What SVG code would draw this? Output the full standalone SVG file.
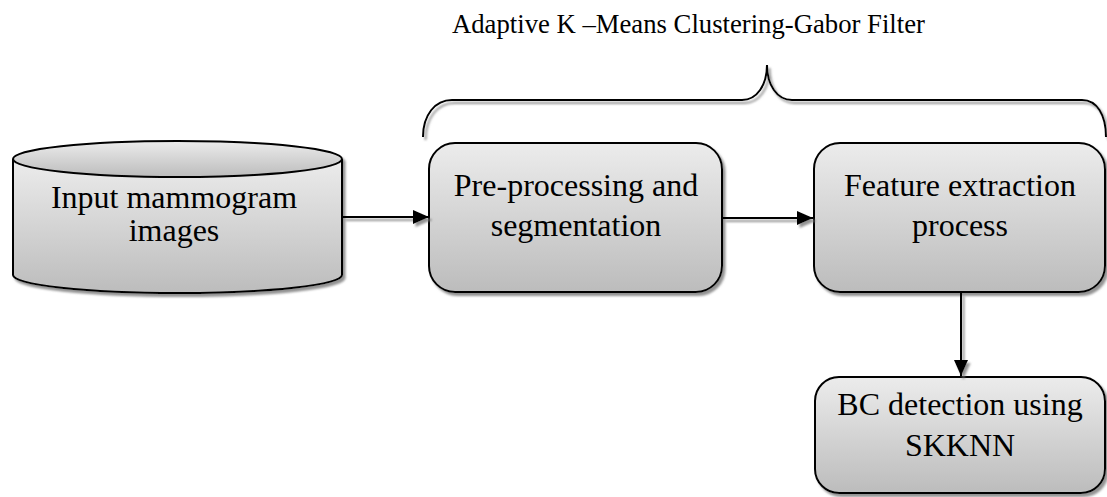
<svg xmlns="http://www.w3.org/2000/svg" width="1107" height="497" viewBox="0 0 1107 497">
<style>
.shape{stroke:#000;stroke-width:2;fill:url(#g)}
.lbl{font-family:"Liberation Serif","Times New Roman",serif;font-size:32px;fill:#000;text-anchor:middle}
.title{font-family:"Liberation Serif","Times New Roman",serif;font-size:26.7px;fill:#000}
.conn{stroke:#000;stroke-width:2;fill:none}
</style>
<defs>
<linearGradient id="g" x1="0" y1="0" x2="0" y2="1">
<stop offset="0" stop-color="#ececec"/>
<stop offset="1" stop-color="#bcbcbc"/>
</linearGradient>
<filter id="sh" x="-10%" y="-10%" width="130%" height="140%">
<feDropShadow dx="2.5" dy="3" stdDeviation="1.2" flood-color="#777" flood-opacity="0.8"/>
</filter>
<marker id="ah" viewBox="0 0 16 14" refX="16" refY="7" markerWidth="16" markerHeight="14" markerUnits="userSpaceOnUse" orient="auto">
<path d="M0,0 L16,7 L0,14 Z" fill="#000"/>
</marker>
</defs>
<text class="title" font-family="Liberation Serif, serif" x="452" y="33">Adaptive K –Means Clustering-Gabor Filter</text>
<g id="brace" filter="url(#sh)">
<path class="conn" d="M423,137 C423,115 435,100 452,100 H742 C757,100 767,85 767,65 C767,85 777,100 792,100 H1082 C1097,100 1106,115 1106,137"/>
</g>
<g id="input" filter="url(#sh)">
<path class="shape" d="M13,159 V275 A164.5,18 0 0 0 342,275 V159"/>
<ellipse class="shape" cx="177.5" cy="159" rx="164.5" ry="18"/>
</g>
<g id="input-label">
<text class="lbl" font-family="Liberation Serif, serif" x="174" y="208">Input mammogram</text>
<text class="lbl" font-family="Liberation Serif, serif" x="174" y="241">images</text>
</g>
<g id="preproc">
<rect class="shape" filter="url(#sh)" x="429" y="143" width="293" height="149" rx="26"/>
<text class="lbl" font-family="Liberation Serif, serif" x="576" y="196">Pre-processing and</text>
<text class="lbl" font-family="Liberation Serif, serif" x="576" y="236">segmentation</text>
</g>
<g id="feature">
<rect class="shape" filter="url(#sh)" x="814" y="143" width="291" height="149" rx="26"/>
<text class="lbl" font-family="Liberation Serif, serif" x="960" y="196">Feature extraction</text>
<text class="lbl" font-family="Liberation Serif, serif" x="960" y="236">process</text>
</g>
<g id="bc">
<rect class="shape" filter="url(#sh)" x="815" y="377" width="290" height="116" rx="24"/>
<text class="lbl" font-family="Liberation Serif, serif" x="960" y="415">BC detection using</text>
<text class="lbl" font-family="Liberation Serif, serif" x="960" y="456">SKKNN</text>
</g>
<g id="connectors" filter="url(#sh)">
<line class="conn" x1="343" y1="217" x2="429" y2="217" marker-end="url(#ah)"/>
<line class="conn" x1="723" y1="218" x2="813" y2="218" marker-end="url(#ah)"/>
<line class="conn" x1="961" y1="293" x2="961" y2="376" marker-end="url(#ah)"/>
</g>
</svg>
